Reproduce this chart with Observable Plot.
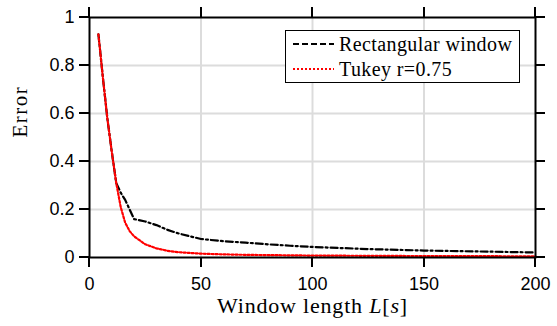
<!DOCTYPE html>
<html>
<head>
<meta charset="utf-8">
<script src="https://cdn.jsdelivr.net/npm/d3@7"></script>
<script src="https://cdn.jsdelivr.net/npm/@observablehq/plot@0.6"></script>
<style>
  html, body { margin: 0; padding: 0; background: #fff; }
  #wrap { position: relative; width: 557px; height: 326px; }
  #legend {
    position: absolute; left: 285px; top: 30px; width: 233px; height: 51px;
    border: 1.5px solid #000; background: #fff; box-sizing: content-box;
    font-family: "Liberation Serif", serif; font-size: 20px; letter-spacing: 0.4px; color: #000;
  }
  .row { position: absolute; left: 7px; display: flex; align-items: center; height: 24px; }
  .row svg { margin-right: 5px; }
  .tk { position: absolute; background: #000; }
</style>
</head>
<body>
<div id="wrap">
  <div id="chart"></div>
  <div id="legend">
    <div class="row" style="top:1px"><svg width="41" height="6"><line x1="0" x2="41" y1="3" y2="3" stroke="#000" stroke-width="2" stroke-dasharray="6,3"/></svg><span>Rectangular window</span></div>
    <div class="row" style="top:26px"><svg width="41" height="6"><line x1="0" x2="41" y1="3" y2="3" stroke="#f00" stroke-width="2" stroke-dasharray="2,2"/></svg><span>Tukey r=0.75</span></div>
  </div>
</div>
<script>
const windowLen = [4, 6, 8, 10, 12, 14, 16, 18, 20, 25, 30, 35, 40, 50, 60, 70, 80, 90, 100, 125, 150, 175, 200];
const rectErr   = [0.93, 0.75, 0.58, 0.44, 0.31, 0.27, 0.24, 0.20, 0.16, 0.15, 0.135, 0.115, 0.10, 0.077, 0.068, 0.062, 0.055, 0.049, 0.044, 0.035, 0.029, 0.025, 0.021];
const tukeyErr  = [0.93, 0.75, 0.58, 0.44, 0.31, 0.21, 0.145, 0.11, 0.088, 0.055, 0.038, 0.028, 0.022, 0.016, 0.013, 0.011, 0.010, 0.009, 0.008, 0.007, 0.006, 0.0055, 0.005];
const xTicks = [0, 50, 100, 150, 200];
const yTicks = [0, 0.2, 0.4, 0.6, 0.8, 1];
const yTickLabels = ["0", "0.2", "0.4", "0.6", "0.8", "1"];

const rect = windowLen.map((x, i) => ({x, y: rectErr[i]}));
const tukey = windowLen.map((x, i) => ({x, y: tukeyErr[i]}));

const W = 557, H = 326, mL = 89, mR = 22, mT = 17, mB = 69;
const tick = 10;
const xDom = [0, 200], yDom = [0, 1];

const chart = Plot.plot({
  width: W, height: H,
  marginLeft: mL, marginRight: mR, marginTop: mT, marginBottom: mB,
  style: {fontFamily: "Liberation Sans", fontSize: "18px", color: "#000", background: "#fff", overflow: "visible"},
  x: {domain: xDom},
  y: {domain: yDom},
  marks: [
    Plot.gridX(xTicks.slice(1, -1), {stroke: "#dcdcdc", strokeOpacity: 1, strokeWidth: 2}),
    Plot.gridY(yTicks.slice(1, -1), {stroke: "#dcdcdc", strokeOpacity: 1, strokeWidth: 2}),
    Plot.line(rect, {x: "x", y: "y", stroke: "#000", strokeWidth: 2.2, strokeDasharray: "7,3,2,3"}),
    Plot.line(tukey, {x: "x", y: "y", stroke: "#f00", strokeWidth: 2.2, strokeDasharray: "2,2"}),
    Plot.frame({stroke: "#000", strokeWidth: 2}),
    Plot.axisX(xTicks, {anchor: "bottom", tickSize: 10, tickPadding: 10, label: null, fontSize: 18, stroke: "#000"}),
    Plot.axisY(yTicks, {anchor: "left", tickSize: 10, tickPadding: 5, label: null, fontSize: 18, stroke: "#000", tickFormat: (d) => yTickLabels[yTicks.indexOf(d)]}),
    Plot.text(["Error"], {frameAnchor: "left", text: d => d, rotate: -90, dx: -69, fill: "#000", fontFamily: "Liberation Serif", fontSize: 21}),
    Plot.text(["Window length L[s]"], {frameAnchor: "bottom", lineAnchor: "middle", text: d => d, dy: 48, fill: "#000", fontFamily: "Liberation Serif", fontSize: 22})
  ]
});
const wrap = document.getElementById("wrap");
document.getElementById("chart").appendChild(chart);

// outward ticks on all four sides, positioned with the chart's own scales
const sx = chart.scale("x"), sy = chart.scale("y");
const px0 = sx.apply(xDom[0]), px1 = sx.apply(xDom[1]);
const py0 = sy.apply(yDom[0]), py1 = sy.apply(yDom[1]);
function tk(left, top, w, h) {
  const d = document.createElement("div");
  d.className = "tk";
  Object.assign(d.style, {left: left + "px", top: top + "px", width: w + "px", height: h + "px"});
  wrap.appendChild(d);
}
for (const v of xTicks) {
  const p = sx.apply(v);
  tk(p - 1, py0, 2, tick);
  tk(p - 1, py1 - tick, 2, tick);
}
for (const v of yTicks) {
  const p = sy.apply(v);
  tk(px0 - tick, p - 1, tick, 2);
  tk(px1, p - 1, tick, 2);
}

chart.querySelectorAll("text").forEach(t => {
  if (t.textContent === "Error") t.setAttribute("letter-spacing", "1.5");
  if (t.textContent === "Window length L[s]") {
    t.setAttribute("letter-spacing", "0.8");
    t.textContent = "";
    const parts = [["Window length ", "normal"], ["L", "italic"], ["[", "normal"], ["s", "italic"], ["]", "normal"]];
    for (const [s, st] of parts) {
      const ts = document.createElementNS("http://www.w3.org/2000/svg", "tspan");
      ts.textContent = s;
      ts.setAttribute("font-style", st);
      t.appendChild(ts);
    }
  }
});
</script>
</body>
</html>
